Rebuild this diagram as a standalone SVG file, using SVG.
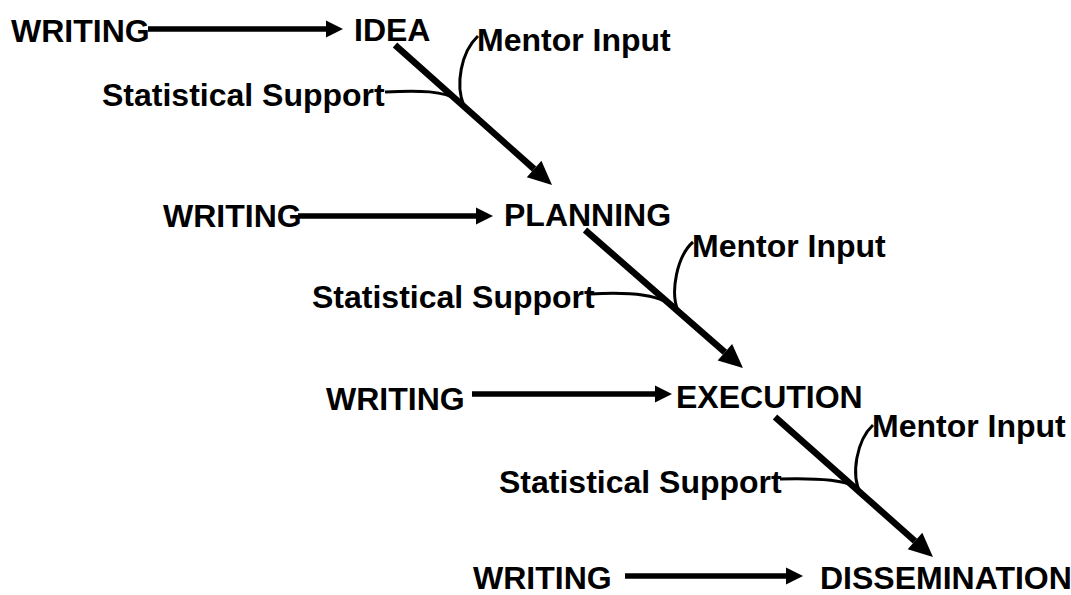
<svg xmlns="http://www.w3.org/2000/svg" width="1071" height="595" viewBox="0 0 1071 595">
  <style>
    text { font-family: "Liberation Sans", Arial, sans-serif; font-weight: bold; font-size: 32px; fill: #000; }
    .h { stroke: #000; stroke-width: 5.5; fill: none; marker-end: url(#ah); }
    .d { stroke: #000; stroke-width: 6.5; fill: none; marker-end: url(#ahd); }
    .c { stroke: #000; stroke-width: 3; fill: none; }
  </style>
  <defs>
    <marker id="ah" markerUnits="userSpaceOnUse" markerWidth="17" markerHeight="17" refX="0" refY="8.5" orient="auto" overflow="visible">
      <path d="M0,0 L17,8.5 L0,17 z" fill="#000"/>
    </marker>
    <marker id="ahd" markerUnits="userSpaceOnUse" markerWidth="24" markerHeight="22" refX="0" refY="11" orient="auto" overflow="visible">
      <path d="M0,0 L24,11 L0,22 z" fill="#000"/>
    </marker>
  </defs>
  <rect width="1071" height="595" fill="#fff"/>

  <g id="writing1"><text x="11" y="42">WRITING</text></g>
  <g id="idea"><text x="354" y="41">IDEA</text></g>
  <g id="mentor1"><text x="477" y="51">Mentor Input</text></g>
  <g id="stat1"><text x="102" y="106">Statistical Support</text></g>

  <g id="writing2"><text x="163" y="227">WRITING</text></g>
  <g id="planning"><text x="504" y="226">PLANNING</text></g>
  <g id="mentor2"><text x="692" y="257">Mentor Input</text></g>
  <g id="stat2"><text x="312" y="308">Statistical Support</text></g>

  <g id="writing3"><text x="326" y="410">WRITING</text></g>
  <g id="execution"><text x="676" y="408">EXECUTION</text></g>
  <g id="mentor3"><text x="872" y="437">Mentor Input</text></g>
  <g id="stat3"><text x="499" y="493">Statistical Support</text></g>

  <g id="writing4"><text x="473" y="589">WRITING</text></g>
  <g id="dissemination"><text x="820" y="589">DISSEMINATION</text></g>

  <g id="connectors">
    <line class="h" x1="148" y1="29" x2="326" y2="29"/>
    <line class="h" x1="298" y1="216" x2="476" y2="216"/>
    <line class="h" x1="472" y1="394" x2="655" y2="394"/>
    <line class="h" x1="625" y1="576" x2="786" y2="576"/>

    <line class="d" x1="395" y1="45" x2="534.1" y2="169"/>
    <line class="d" x1="585" y1="230" x2="724.9" y2="352.2"/>
    <line class="d" x1="775" y1="417" x2="915" y2="541.1"/>

    <path class="c" d="M478,36 C461,52 455,85 464,106"/>
    <path class="c" d="M385,92 C420,90 445,91 457,100"/>
    <path class="c" d="M693,242 C677,256 670,292 678,311"/>
    <path class="c" d="M590,294 C625,292 650,294 664,301"/>
    <path class="c" d="M873,425 C857,440 850,475 861,494"/>
    <path class="c" d="M780,479 C815,478 840,480 852,485"/>
  </g>
</svg>
